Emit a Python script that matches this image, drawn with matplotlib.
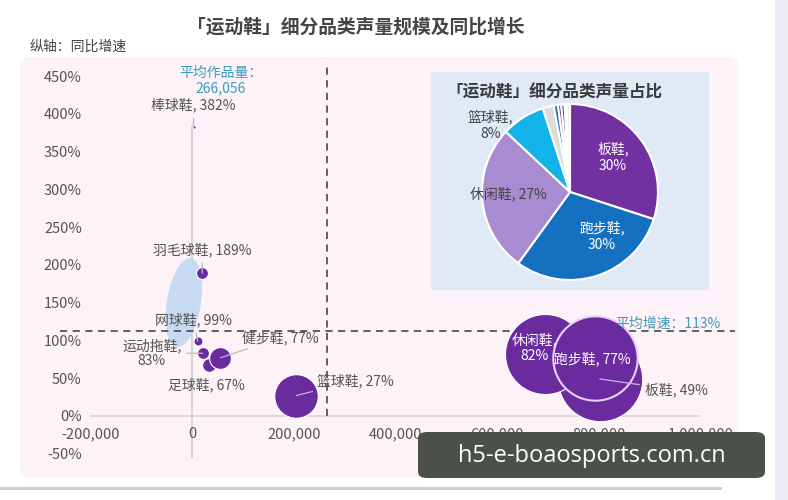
import matplotlib
matplotlib.use("Agg")
import matplotlib.pyplot as plt
import numpy as np
from matplotlib.patches import FancyBboxPatch, Ellipse, Rectangle
import matplotlib.transforms as mtransforms

plt.rcParams['font.family'] = ['Noto Sans CJK SC', 'DejaVu Sans']

# ---------------- data ----------------
categories = ['棒球鞋', '羽毛球鞋', '网球鞋', '运动拖鞋', '足球鞋', '健步鞋', '篮球鞋', '板鞋', '休闲鞋', '跑步鞋']
avg_works = [3000, 20000, 11000, 21000, 34000, 56000, 205000, 802000, 694000, 792000]
growth = [382, 189, 99, 83, 67, 77, 27, 49, 82, 77]
share = [0.05, 0.6, 0.35, 0.6, 0.8, 2.0, 8, 30, 27, 30]

avg_x = 266056
avg_growth = 113

x_ticks = [-200000, 0, 200000, 400000, 600000, 800000, 1000000]
y_ticks = [-50, 0, 50, 100, 150, 200, 250, 300, 350, 400, 450]

pie_labels = ['板鞋', '跑步鞋', '休闲鞋', '篮球鞋', '健步鞋', '足球鞋', '羽毛球鞋', '运动拖鞋', '网球鞋', '棒球鞋', '其他']
pie_values = [30, 30, 27, 8, 2.0, 0.8, 0.6, 0.6, 0.35, 0.05, 0.6]

# ---------------- figure ----------------
W, H = 788, 500
fig = plt.figure(figsize=(W / 100, H / 100), dpi=100)
fig.patch.set_facecolor('white')

def fx(px):
    return px / W

def fy(py):
    return 1 - py / H

# pink panel
panel = FancyBboxPatch((fx(20), fy(478)), fx(738) - fx(20), fy(57) - fy(478),
                       boxstyle="round,pad=0,rounding_size=0.015", transform=fig.transFigure,
                       facecolor='#fcf2f7', edgecolor='none', zorder=-10)
fig.patches.append(panel)
# right strip
fig.patches.append(Rectangle((fx(775), 0), fx(13), 1, transform=fig.transFigure,
                             facecolor='#ecebf2', edgecolor='none', zorder=-10))
# bottom grey line
fig.lines.append(plt.Line2D([0, fx(720)], [fy(488), fy(488)], transform=fig.transFigure,
                            color='#cccccc', lw=2, zorder=-5))

# ---------------- main axes ----------------
ax = fig.add_axes([fx(86), fy(470), fx(735) - fx(86), fy(60) - fy(470)])
ax.set_facecolor('none')
ax.set_xlim(-208456, 1067847)
ax.set_ylim(-71.5, 471.2)
for s in ax.spines.values():
    s.set_visible(False)
ax.spines['bottom'].set_position(('data', 0))
ax.set_xticks(x_ticks)
ax.set_xticklabels([f"{v:,}" for v in x_ticks])
ax.set_yticks(y_ticks)
ax.set_yticklabels([f"{v}%" for v in y_ticks])
ax.tick_params(axis='x', length=0, pad=8, labelsize=10.5, labelcolor='#555555')
ax.tick_params(axis='y', length=0, pad=3, labelsize=10.5, labelcolor='#555555')

# axis lines
ax.hlines(0, -200000, 1000000, color='#d9d9d9', lw=1.3, zorder=1)
ax.vlines(0, -55, 385, color='#d2d2d2', lw=1.3, zorder=1)

# highlight ellipse (pixel-sized, anchored in data)
ell_tr = fig.dpi_scale_trans + mtransforms.ScaledTranslation(-16000, 150, ax.transData)
ell = Ellipse((0, 0), width=0.90, height=0.34, angle=81, transform=ell_tr,
              facecolor='#c4d9f2', edgecolor='none', alpha=0.95, zorder=1.5)
ax.add_patch(ell)

# average lines
dash = (0, (4, 3))
ax.vlines(avg_x, 0, 468, color='#555555', lw=1.3, linestyles=[dash], zorder=2)
ax.plot([-0.04, 1.0], [avg_growth, avg_growth], transform=ax.get_yaxis_transform(),
        color='#555555', lw=1.3, ls=dash, clip_on=False, zorder=2)

# bubbles
k = 123.0
for i, c in enumerate(categories):
    if c == '跑步鞋':
        ec, lw = '#e6d3f6', 1.5
    else:
        ec, lw = 'white', 0.8
    ax.scatter([avg_works[i]], [growth[i]], s=share[i] * k, color='#6a2b9f',
               edgecolors=ec, linewidths=lw, zorder=3)

# labels: (dx_px, dy_px, ha, text color, leader)
lab_cfg = {
    '棒球鞋': (0, 22, 'center', '#555555', True),
    '羽毛球鞋': (0, 23, 'center', '#555555', True),
    '网球鞋': (-4, 21, 'center', '#555555', True),
    '运动拖鞋': (-51, 0, 'center', '#555555', True),
    '足球鞋': (-3, -20, 'center', '#555555', False),
    '健步鞋': (60, 20, 'center', '#555555', True),
    '篮球鞋': (59, 15, 'center', '#555555', True),
    '板鞋': (45, -11, 'left', '#555555', True),
    '休闲鞋': (-10, 6, 'center', 'white', False),
    '跑步鞋': (-2, -1, 'center', 'white', False),
}
for i, c in enumerate(categories):
    dx, dy, ha, col, lead = lab_cfg[c]
    if c in ('运动拖鞋', '休闲鞋'):
        txt = f"{c},\n{growth[i]}%"
    else:
        txt = f"{c}, {growth[i]}%"
    ap = None
    if lead:
        lc = '#c9b3e6' if c == '板鞋' else '#bbbbbb'
        ap = dict(arrowstyle='-', color=lc, lw=0.9, shrinkA=2, shrinkB=0)
    ax.annotate(txt, xy=(avg_works[i], growth[i]), xytext=(dx * 0.72, dy * 0.72),
                textcoords='offset points', ha=ha, va='center', fontsize=10,
                color=col, arrowprops=ap, zorder=4, linespacing=1.15)

# average labels
ax.annotate(f"平均作品量：\n{avg_x:,}", xy=(avg_x, 0), xycoords='data',
            xytext=(fx(221), fy(81)), textcoords='figure fraction',
            ha='center', va='center', fontsize=10, color='#3c9cbc', linespacing=1.1)
ax.text(1.0 - 15 / 649, avg_growth, f"平均增速：{avg_growth}%", transform=ax.get_yaxis_transform(),
        ha='right', va='bottom', fontsize=10, color='#3c9cbc')

# ---------------- titles ----------------
fig.text(fx(356), fy(27), "「运动鞋」细分品类声量规模及同比增长", ha='center', va='center',
         fontsize=13.5, fontweight='bold', color='#444444')
fig.text(fx(30), fy(47), "纵轴：同比增速", ha='left', va='center', fontsize=10, color='#444444')

# ---------------- pie inset ----------------
fig.patches.append(Rectangle((fx(431), fy(290)), fx(709) - fx(431), fy(72) - fy(290),
                             transform=fig.transFigure, facecolor='#dfeaf6',
                             edgecolor='none', zorder=1))
fig.text(fx(554), fy(92), "「运动鞋」细分品类声量占比", ha='center', va='center',
         fontsize=12, fontweight='bold', color='#3a3a3a', zorder=3)

R = 88
pax = fig.add_axes([fx(570 - R), fy(192 + R), fx(2 * R), fy(0) - fy(2 * R)], zorder=2)
pie_colors = ['#7131a1', '#1670c1', '#a98bd1', '#12b2ea', '#dcdcdc', '#2e75b6',
              '#7030a0', '#203864', '#5b9bd5', '#a5a5a5', '#e8e8e8']
pax.pie(pie_values, colors=pie_colors, startangle=90, counterclock=False,
        wedgeprops=dict(edgecolor='white', linewidth=1.5))
pax.set_aspect('equal')
pax.set_xlim(-1, 1)
pax.set_ylim(-1, 1)
pax.axis('off')

pie_lab_pos = {'板鞋': (0.63, 39, 'white', True), '跑步鞋': (0.62, -54, 'white', True),
               '休闲鞋': (0.70, -178, '#444444', False), '篮球鞋': (1.18, 140, '#444444', True)}
for i, c in enumerate(pie_labels[:4]):
    r, ang, col, two = pie_lab_pos[c]
    txt = f"{c},\n{pie_values[i]}%" if two else f"{c}, {pie_values[i]}%"
    pax.text(r * np.cos(np.radians(ang)), r * np.sin(np.radians(ang)), txt, ha='center',
             va='center', fontsize=10, color=col, linespacing=1.2, clip_on=False)

# ---------------- watermarks ----------------
fig.text(fx(592), fy(466), "公众号 · 行研多来来产业研究", ha='center', va='center',
         fontsize=15, color='#cfcfcf', zorder=4)
wm = FancyBboxPatch((fx(418), fy(478)), fx(765) - fx(418), fy(432) - fy(478),
                    boxstyle="round,pad=0,rounding_size=0.012", transform=fig.transFigure,
                    facecolor='#4b5049', edgecolor='none', zorder=5)
fig.patches.append(wm)
fig.text(fx(592), fy(456), "h5-e-boaosports.com.cn", ha='center', va='center',
         fontsize=17, color='white', family=['Open Sans', 'DejaVu Sans'], zorder=6)

fig.savefig('out.png', dpi=100)
